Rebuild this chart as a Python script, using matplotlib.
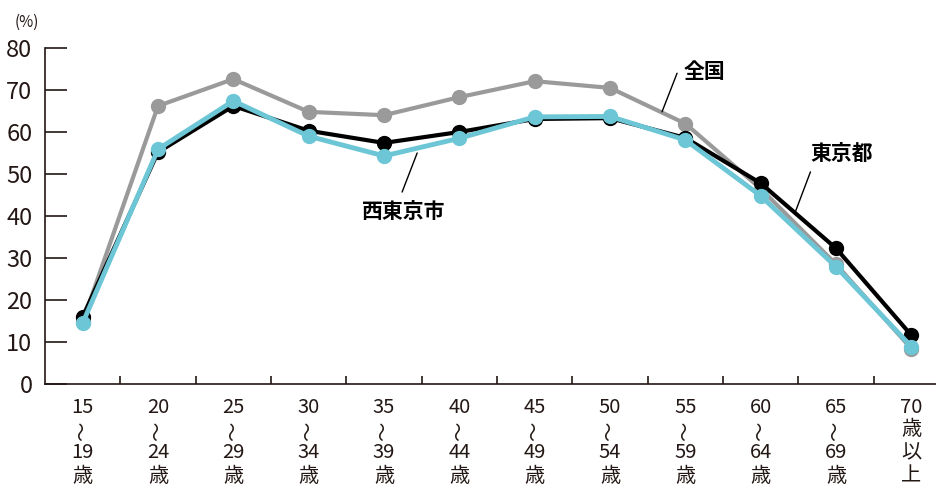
import matplotlib.pyplot as plt
import matplotlib.transforms as mtransforms

plt.rcParams["font.family"] = ["Noto Sans CJK JP", "DejaVu Sans"]

# 年齢階級 (上段, 下段)
age_from = ["15", "20", "25", "30", "35", "40", "45", "50", "55", "60", "65", "70"]
age_to = ["19", "24", "29", "34", "39", "44", "49", "54", "59", "64", "69", ""]

# 労働力率 (%)
zenkoku = [14.8, 66.2, 72.6, 64.8, 64.0, 68.3, 72.1, 70.5, 62.0, 46.5, 28.5, 8.4]
tokyo = [16.0, 55.2, 66.2, 60.3, 57.4, 60.0, 63.1, 63.3, 58.6, 47.8, 32.3, 11.6]
nishitokyo = [14.5, 55.9, 67.4, 59.0, 54.3, 58.5, 63.6, 63.7, 58.1, 44.8, 27.9, 8.9]

ink = "#231815"
x = range(len(age_from))

fig = plt.figure(figsize=(9.37, 4.86), dpi=100)
ax = fig.add_axes([45 / 937, 102 / 486, 892 / 937, 336 / 486])

ax.plot(x, zenkoku, "-o", color="#9a9a9a", linewidth=3, markersize=10, zorder=2)
ax.plot(x, tokyo, "-o", color="#000000", linewidth=3, markersize=10, zorder=3)
ax.plot(x, nishitokyo, "-o", color="#6cc6d5", linewidth=3.5, markersize=10, zorder=4)

ax.set_xlim(-0.5, 11.34)
ax.set_ylim(0, 80)

for s in ["top", "right"]:
    ax.spines[s].set_visible(False)
for s in ["left", "bottom"]:
    ax.spines[s].set_color(ink)
    ax.spines[s].set_linewidth(1.2)

ax.set_yticks(range(0, 81, 10))
ax.tick_params(axis="y", direction="in", length=16, width=1.2, color=ink,
               labelsize=17, labelcolor=ink, pad=9)

ax.set_xticks(list(x))
ax.set_xticklabels([])
ax.set_xticks([i + 0.5 for i in range(11)], minor=True)
ax.tick_params(axis="x", which="major", length=0)
ax.tick_params(axis="x", which="minor", direction="in", length=6,
               width=1.2, color=ink)

# 目盛ラベル (縦書き風に1行ずつ)
trans = mtransforms.blended_transform_factory(ax.transData, ax.transAxes)
rows = [-0.0685, -0.140, -0.205, -0.274]
for i, (a, b) in enumerate(zip(age_from, age_to)):
    kw = dict(ha="center", va="center", fontsize=14.5, color=ink,
              transform=trans, clip_on=False)
    ax.text(i, rows[0], a, **kw)
    if b:
        ax.text(i, rows[1], "〜", rotation=90, **{**kw, "fontsize": 14})
        ax.text(i, rows[2], b, **kw)
        ax.text(i, rows[3], "歳", **kw)
    else:
        ax.text(i, rows[1] + 0.005, "歳", **kw)
        ax.text(i, rows[2], "以", **kw)
        ax.text(i, rows[3], "上", **kw)

fig.text(27 / 937, 1 - 22 / 486, "(%)", ha="center", va="center",
         fontsize=11, color=ink)

# ラベルと引き出し線
labels = [("全国", (8.25, 74.3), (7.89, 74.0), (7.69, 64.8)),
          ("西東京市", (4.26, 41.0), (4.44, 55.0), (4.24, 45.7)),
          ("東京都", (10.08, 55.0), (9.66, 50.5), (9.46, 41.0))]
for name, pos, p1, p2 in labels:
    ax.text(pos[0], pos[1], name, ha="center", va="center", fontsize=15,
            fontweight="bold", color="#000000", zorder=6)
    ax.annotate("", xy=p1, xytext=p2,
                arrowprops=dict(arrowstyle="-", color="#000000", lw=1,
                                shrinkA=0, shrinkB=0), zorder=6)

fig.savefig("out.png", dpi=100)
